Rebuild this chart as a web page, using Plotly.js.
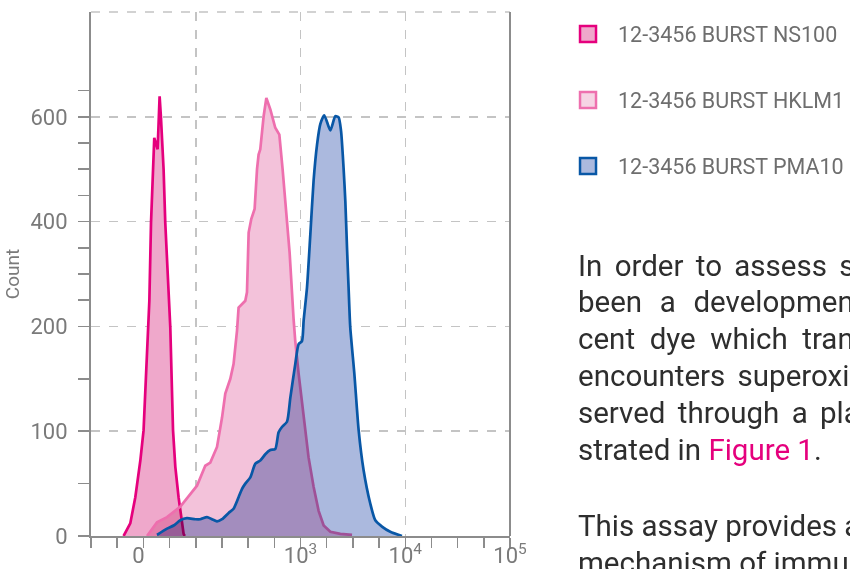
<!DOCTYPE html>
<html><head><meta charset="utf-8">
<script src="https://cdn.plot.ly/plotly-3.0.1.min.js"></script>
<style>
html,body{margin:0;padding:0;background:#fff;overflow:hidden}
#chart{width:850px;height:569px}
.js-fill{mix-blend-mode:multiply}
</style></head><body><div id="chart"></div>
<script>
// ---- data (x in decades of fluorescence on the biexponential channel scale, y = count) ----
const seriesNames = ['12-3456 BURST NS100', '12-3456 BURST HKLM1', '12-3456 BURST PMA10'];

const ns100Channel = [1.311,1.375,1.423,1.471,1.502,1.528,1.544,1.557,1.573,1.592,1.604,1.636,1.655,1.668,1.693,1.709,1.731,1.745,1.757,1.783,1.805,1.836,1.859,1.884,1.895];
const ns100Count   = [0,12,37,72,101,161,199,249,398,500,560,538,639,598,500,398,303,253,199,101,66,37,22,2,0];

const hklm1Channel = [1.535,1.630,1.726,1.853,1.948,2.012,2.091,2.139,2.203,2.234,2.251,2.282,2.330,2.361,2.384,2.394,2.409,2.473,2.489,2.505,2.530,2.562,2.585,2.600,2.616,2.648,2.674,2.712,2.759,2.798,2.829,2.862,2.896,2.934,2.950,2.982,3.030,3.077,3.125,3.173,3.221,3.285,3.380,3.492];
const hklm1Count   = [0,13,18,28,40,48,67,70,85,101,113,136,150,164,183,196,236,249,265,379,405,424,500,528,538,601,636,614,579,566,500,417,341,214,186,155,117,75,47,24,10,4,2,1];

const pma10Channel = [1.630,1.726,1.789,1.853,1.916,1.996,2.043,2.107,2.155,2.203,2.251,2.314,2.361,2.409,2.442,2.473,2.521,2.569,2.616,2.664,2.712,2.759,2.791,2.823,2.871,2.903,2.950,2.982,3.014,3.030,3.062,3.094,3.125,3.158,3.189,3.227,3.285,3.332,3.364,3.387,3.411,3.428,3.444,3.459,3.475,3.514,3.555,3.602,3.666,3.714,3.778,3.857,3.969];
const pma10Count   = [1,7,10,15,17,16,16,18,16,14,16,22,26,37,45,50,56,69,72,78,82,83,99,104,109,132,164,183,186,211,274,376,478,547,586,603,574,601,599,573,503,439,350,274,199,155,101,63,31,15,9,4,0];

const yTickCounts = [0,100,200,400,600];
const yMinorCounts = [0,50,100,150,200,250,300,350,400,450,500,550,600,650];
const xTickChannels = [1.453,3,4,5];
const xTickLabels = ['0','10<sup>3</sup>','10<sup>4</sup>','10<sup>5</sup>'];
const xGridChannels = [2,3,4];
const xMinorChannels = [1,1.25,1.5,1.75,2,2.25,2.5,2.75,3,3.25,3.5,3.75,4,4.25,4.5,4.75,5];

const NB = '\u00A0', SIX = '\u2006', HAIR = '\u200A';
const paraLines = [
  ['In','order','to','assess','superoxide','production,','there','has'].join(NB + SIX),
  ['been','a','development','of','a','novel','fluores-'].join(NB + NB + HAIR),
  ['cent','dye','which','transforms','when','it'].join(NB + NB),
  ['encounters','superoxide.','This','can','be','ob-'].join(NB + SIX),
  ['served','through','a','plate','reader','as','demon-'].join(NB + SIX),
  'strated in <span style="color:#E5007D">Figure 1</span>.',
  'This assay provides a unique insight into the',
  'mechanism of immune cell activation and'
];
const paraLineCentersPx = [266, 302, 339, 376, 413, 450, 526, 563];

// count axis: linear to 200, then compressed by half above 200
function countScale(v){ return v <= 200 ? v : 200 + (v - 200) / 2; }

const lineColors = ['#E5007D', '#EE6FAE', '#0857A6'];
const fillColors = ['#EFA8CB', '#F3C2DA', '#ABB9DE'];
const legendFills = ['#EFA8CB', '#F6D3E4', '#ABB9DE'];

const gridColor = '#C4C4C4';
const axisColor = '#8C8C8C';
const tickFontColor = '#7A7A7A';
const FONT = 'Roboto, "Noto Sans", sans-serif';

const channels = [ns100Channel, hklm1Channel, pma10Channel];
const counts = [ns100Count, hklm1Count, pma10Count];
const shapesLine = ['linear', 'linear', 'spline'];

const traces = [];
for (let i = 0; i < 3; i++) {
  traces.push({
    type: 'scatter', mode: 'lines',
    x: channels[i], y: counts[i].map(countScale),
    fill: 'tozeroy', fillcolor: fillColors[i],
    line: {color: lineColors[i], width: 2.7, shape: shapesLine[i], smoothing: 0.6},
    showlegend: false, hoverinfo: 'skip'
  });
}
for (let i = 0; i < 3; i++) {
  traces.push({
    type: 'scatter', mode: 'markers', x: [null], y: [null],
    name: seriesNames[i], legendgroup: 'g' + i,
    marker: {symbol: 'square', size: 16, color: legendFills[i], line: {color: lineColors[i], width: 2.5}},
    showlegend: true, hoverinfo: 'skip'
  });
}
// empty trace that carries the label axis
traces.push({type: 'scatter', mode: 'markers', x: [null], y: [null], xaxis: 'x2', yaxis: 'y', showlegend: false, hoverinfo: 'skip'});

const plotTop = 12, plotBottom = 536;
const annotations = paraLines.map((t, i) => ({
  xref: 'paper', yref: 'paper', x: 1.158,
  y: (plotBottom - paraLineCentersPx[i]) / (plotBottom - plotTop),
  xanchor: 'left', yanchor: 'middle', align: 'left', showarrow: false,
  text: t, font: {size: 29.5, color: '#2E2E2E', family: FONT, weight: 400}
}));

const layout = {
  width: 850, height: 569,
  margin: {l: 91, r: 340, t: plotTop, b: 569 - plotBottom, pad: 0, autoexpand: false},
  paper_bgcolor: '#ffffff', plot_bgcolor: '#ffffff',
  font: {family: FONT, color: tickFontColor},
  showlegend: true,
  legend: {
    x: 1.1146, xanchor: 'left', y: 0.997, yanchor: 'top',
    font: {size: 21.5, color: '#6E6E6E', weight: 400},
    itemwidth: 50, tracegroupgap: 35, bgcolor: 'rgba(0,0,0,0)'
  },
  xaxis: {
    range: [1, 5], showline: true, linecolor: axisColor, linewidth: 2,
    zeroline: false, tickmode: 'array', tickvals: xGridChannels,
    showticklabels: false, ticks: 'outside', ticklen: 10, tickwidth: 1.5, tickcolor: axisColor,
    showgrid: true, gridcolor: gridColor, gridwidth: 1.5, griddash: 'dash',
    minor: {tickmode: 'array', tickvals: xMinorChannels, ticks: 'outside', ticklen: 10, tickwidth: 1.5, tickcolor: axisColor, showgrid: false},
    fixedrange: true
  },
  xaxis2: {
    overlaying: 'x', anchor: 'y', side: 'bottom', range: [1, 5],
    tickmode: 'array', tickvals: xTickChannels, ticktext: xTickLabels,
    ticks: '', showgrid: false, showline: false, zeroline: false,
    tickfont: {size: 22, color: tickFontColor, weight: 400}, ticklabelstandoff: 4, fixedrange: true
  },
  yaxis: {
    range: [0, 500], showline: true, linecolor: axisColor, linewidth: 2, zeroline: false,
    tickmode: 'array', tickvals: yTickCounts.map(countScale), ticktext: yTickCounts.map(String),
    ticks: 'outside', ticklen: 11, tickwidth: 1.5, tickcolor: axisColor,
    tickfont: {size: 22, color: tickFontColor, weight: 400}, ticklabelstandoff: 6,
    showgrid: true, gridcolor: gridColor, gridwidth: 1.5, griddash: 'dash',
    minor: {tickmode: 'array', tickvals: yMinorCounts.map(countScale), ticks: 'outside', ticklen: 11, tickwidth: 1.5, tickcolor: axisColor, showgrid: false},
    title: {text: 'Count', font: {size: 19, color: tickFontColor, weight: 400}, standoff: 6},
    fixedrange: true
  },
  shapes: [
    {type: 'line', xref: 'paper', yref: 'paper', x0: 0, x1: 1, y0: 1, y1: 1, line: {color: gridColor, width: 1.5, dash: 'dash'}, layer: 'below'},
    {type: 'line', xref: 'paper', yref: 'paper', x0: 1, x1: 1, y0: 0, y1: 1, line: {color: axisColor, width: 2}}
  ],
  annotations: annotations
};

Plotly.newPlot('chart', traces, layout, {staticPlot: true, displayModeBar: false});
</script></body></html>
